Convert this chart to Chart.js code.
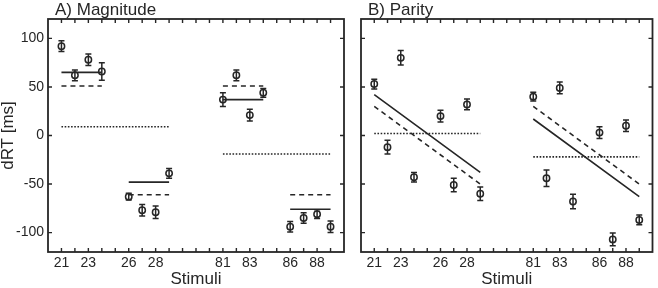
<!DOCTYPE html>
<html><head><meta charset="utf-8">
<script src="https://cdn.jsdelivr.net/npm/chart.js@4/dist/chart.umd.min.js"></script>
<style>
html,body{margin:0;padding:0;background:#fff;width:658px;height:288px;overflow:hidden}
#wa{position:absolute;left:0;top:0;width:350px;height:288px}
#wb{position:absolute;left:350px;top:0;width:308px;height:288px}
</style></head><body>
<div id="wa"><canvas id="ca"></canvas></div>
<div id="wb"><canvas id="cb"></canvas></div>
<script>
// ---- data ----
const stimuli = [21,22,23,24,26,27,28,29,81,82,83,84,86,87,88,89];
const xTickLabels = [21,23,26,28,81,83,86,88];
const yTicks = [-100,-50,0,50,100];
const magnitudeRT  = [92,62,78,66,-63,-77,-79,-39,37,62,21,44,-94,-85,-81,-94];
const magnitudeErr = [5.5,5.5,6,9,3.5,6,6.5,5,7,5.5,6,4.5,5.5,5.5,4.5,6];
const parityRT  = [53,-12,80,-43,20,-51,32,-60,40,-44,49,-68,3,-107,10,-87];
const parityErr = [5,7,7.5,5,6,7,5.5,7,4.5,8.5,6,7.5,6,6.5,6,5];
// model predictions: [first stimulus, last stimulus, value at first, value at last]
const magSolid  = [[21,24,65,65],[26,29,-48,-48],[81,84,37,37],[86,89,-76,-76]];
const magDashed = [[21,24,51,51],[26,29,-61,-61],[81,84,51,51],[86,89,-61,-61]];
const magDotted = [[21,29,9,9],[81,89,-19,-19]];
const parSolid  = [[21,29,42,-38],[81,89,17,-63]];
const parDashed = [[21,29,30,-50],[81,89,30,-50]];
const parDotted = [[21,29,2,2],[81,89,-22,-22]];

// stimulus -> axis position (gap of 3 units between the two number ranges)
function axisPos(s){ return s < 50 ? s - 21 : s - 69; }
function posLabel(p){
  const s = p <= 8 ? p + 21 : p + 69;
  return xTickLabels.includes(s) ? String(s) : '';
}
const INK = '#262626';
const FONT = "'Liberation Sans', Arial, Helvetica, sans-serif";

function segData(segs){
  const out = [];
  segs.forEach(([a,b,va,vb]) => {
    out.push({x:axisPos(a), y:va}, {x:axisPos(b), y:vb}, {x:axisPos(b)+0.5, y:null});
  });
  return out;
}
function lineDs(segs, dash){
  return {data:segData(segs), showLine:true, pointRadius:0, borderColor:INK, borderWidth:1.6,
          borderDash:dash, spanGaps:false, order:1, fill:false};
}

function makePanel(canvasId, rt, err, solid, dashed, dotted, title, showY, padding){
  const pts = stimuli.map((s,i)=>({x:axisPos(s), y:rt[i]}));
  const framePlugin = {
    id:'frame',
    afterDraw(chart){
      const {ctx, chartArea:a, scales} = chart;
      const xs = scales.x, ys = scales.y;
      ctx.save();
      // error bars
      ctx.strokeStyle = INK; ctx.lineWidth = 1.5;
      stimuli.forEach((s,i)=>{
        const px = xs.getPixelForValue(axisPos(s));
        const y1 = ys.getPixelForValue(rt[i]-err[i]);
        const y2 = ys.getPixelForValue(rt[i]+err[i]);
        ctx.beginPath();
        ctx.moveTo(px,y1); ctx.lineTo(px,y2);
        ctx.moveTo(px-3,y1); ctx.lineTo(px+3,y1);
        ctx.moveTo(px-3,y2); ctx.lineTo(px+3,y2);
        ctx.stroke();
      });
      // box
      ctx.lineWidth = 1.8;
      ctx.strokeRect(a.left, a.top, a.right-a.left, a.bottom-a.top);
      // inward ticks
      ctx.lineWidth = 1.4;
      ctx.beginPath();
      for(let p=0;p<=20;p++){
        const px = xs.getPixelForValue(p);
        ctx.moveTo(px,a.bottom); ctx.lineTo(px,a.bottom-4);
        ctx.moveTo(px,a.top); ctx.lineTo(px,a.top+4);
      }
      yTicks.forEach(v=>{
        const py = ys.getPixelForValue(v);
        ctx.moveTo(a.left,py); ctx.lineTo(a.left+4,py);
        ctx.moveTo(a.right,py); ctx.lineTo(a.right-4,py);
      });
      ctx.stroke();
      // panel title
      ctx.fillStyle = INK;
      ctx.font = '17px ' + FONT;
      ctx.textBaseline = 'alphabetic';
      ctx.textAlign = 'left';
      ctx.fillText(title, a.left + 7, 14.5);
      ctx.restore();
    }
  };
  return new Chart(document.getElementById(canvasId), {
    type:'scatter',
    data:{datasets:[
      {data:pts, pointStyle:'circle', pointRadius:3.2, pointBorderWidth:1.5,
       pointBorderColor:INK, pointBackgroundColor:'rgba(0,0,0,0)', showLine:false, order:0},
      lineDs(solid, []),
      lineDs(dashed, [5,4]),
      lineDs(dotted, [1.6,1.6])
    ]},
    options:{
      animation:false, responsive:true, maintainAspectRatio:false, devicePixelRatio:1,
      layout:{padding:padding},
      plugins:{legend:{display:false}, tooltip:{enabled:false}},
      scales:{
        x:{type:'linear', min:-1, max:21,
           afterBuildTicks(s){ s.ticks = xTickLabels.map(v=>({value:axisPos(v)})); },
           afterFit(s){ s.height = 36; },
           grid:{display:false, drawTicks:false}, border:{display:false},
           ticks:{autoSkip:false, maxRotation:0, padding:3, color:INK,
                  font:{family:FONT, size:14}, callback:(v)=>posLabel(v)},
           title:{display:true, text:'Stimuli', color:INK, font:{family:FONT, size:17, lineHeight:1},
                  padding:{top:0, bottom:0}}},
        y:{min:-120, max:120, display:showY,
           afterBuildTicks(s){ s.ticks = yTicks.map(v=>({value:v})); },
           afterFit(s){ s.width = showY ? 48 : 0; },
           grid:{display:false, drawTicks:false}, border:{display:false},
           ticks:{padding:4, color:INK, font:{family:FONT, size:14}},
           title:{display:true, text:'dRT [ms]', color:INK, font:{family:FONT, size:17, lineHeight:1},
                  padding:{top:0, bottom:0}}}
      }
    },
    plugins:[framePlugin]
  });
}

makePanel('ca', magnitudeRT, magnitudeErr, magSolid, magDashed, magDotted, 'A) Magnitude', true,
          {top:19, right:6, left:0, bottom:0});
makePanel('cb', parityRT, parityErr, parSolid, parDashed, parDotted, 'B) Parity', false,
          {top:19, right:2, left:11, bottom:0});
</script>
</body></html>
